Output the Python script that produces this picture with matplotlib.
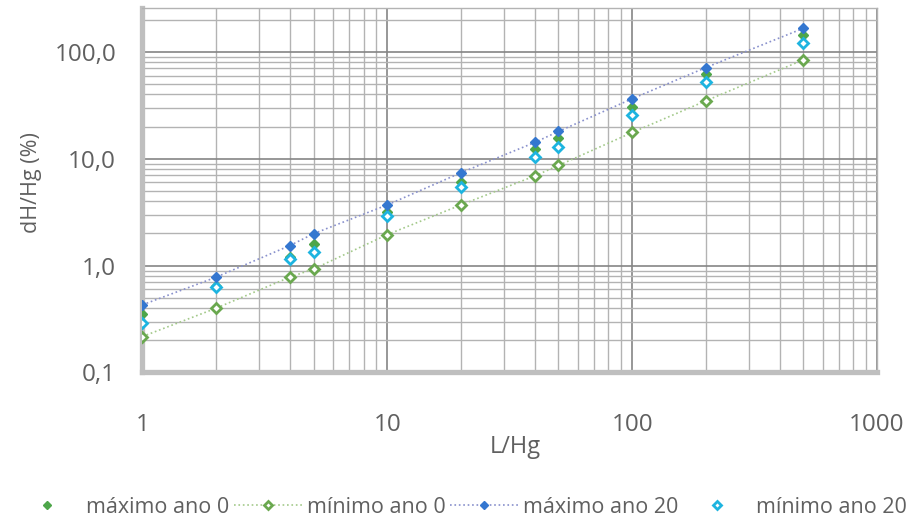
import matplotlib
matplotlib.use("Agg")
import matplotlib.pyplot as plt
from matplotlib.ticker import FixedLocator, LogLocator, NullFormatter, FixedFormatter

plt.rcParams['font.family'] = ['Open Sans', 'DejaVu Sans']

x_vals = [1, 2, 4, 5, 10, 20, 40, 50, 100, 200, 500]
max_ano0 = [0.35, 0.64, 1.20, 1.61, 3.2, 6.0, 12.4, 15.6, 30.8, 62.3, 144]
min_ano0 = [0.217, 0.40, 0.78, 0.93, 1.95, 3.7, 6.9, 8.65, 17.6, 34.8, 84.2]
max_ano20 = [0.43, 0.78, 1.54, 1.99, 3.7, 7.4, 14.2, 18.0, 36.4, 71.3, 166]
min_ano20 = [0.29, 0.63, 1.16, 1.34, 2.9, 5.4, 10.4, 13.0, 25.8, 52.1, 122]

labels = ["máximo ano 0", "mínimo ano 0", "máximo ano 20", "mínimo ano 20"]
y_ticks = [0.1, 1, 10, 100]
y_ticklabels = ["0,1", "1,0", "10,0", "100,0"]
x_ticks = [1, 10, 100, 1000]
x_ticklabels = ["1", "10", "100", "1000"]

text_col = "#606060"

fig = plt.figure(figsize=(9.18, 5.18), dpi=100)
ax = fig.add_axes([0.1552, 0.2809, 0.8001, 0.7046])
ax.set_xscale("log")
ax.set_yscale("log")
ax.set_xlim(1, 1000)
ax.set_ylim(0.1, 260)

# gridlines
ax.xaxis.set_major_locator(FixedLocator(x_ticks))
ax.yaxis.set_major_locator(FixedLocator(y_ticks))
ax.xaxis.set_minor_locator(LogLocator(base=10, subs=range(2, 10), numticks=20))
ax.yaxis.set_minor_locator(LogLocator(base=10, subs=range(2, 10), numticks=20))
ax.xaxis.set_minor_formatter(NullFormatter())
ax.yaxis.set_minor_formatter(NullFormatter())
ax.xaxis.set_major_formatter(FixedFormatter(x_ticklabels))
ax.yaxis.set_major_formatter(FixedFormatter(y_ticklabels))
ax.grid(True, which="major", color="#858585", linewidth=1.2, zorder=0)
ax.grid(True, which="minor", color="#b3b3b3", linewidth=1.0, zorder=0)
ax.set_axisbelow(True)
ax.tick_params(which="both", length=0, labelsize=17.5, colors=text_col)
ax.tick_params(axis="y", pad=19)
ax.tick_params(axis="x", pad=29)

for s in ["top", "right"]:
    ax.spines[s].set_color("#b3b3b3")
    ax.spines[s].set_linewidth(1.0)
for s in ["left", "bottom"]:
    ax.spines[s].set_color("#bfbfbf")
    ax.spines[s].set_linewidth(3.8)

ms = 5.6
h1, = ax.plot(x_vals, max_ano0, linestyle="none", marker="D", markersize=ms,
              color="#4ea64a", markeredgecolor="#4ea64a", label=labels[0], zorder=4)
h2, = ax.plot(x_vals, min_ano0, linestyle=":", linewidth=1.2, color="#a3c98a",
              marker="D", markersize=ms, markerfacecolor="white",
              markeredgecolor="#6aa84f", markeredgewidth=2, label=labels[1], zorder=3)
h3, = ax.plot(x_vals, max_ano20, linestyle=":", linewidth=1.2, color="#8890cc",
              marker="D", markersize=ms, markerfacecolor="#3477d0",
              markeredgecolor="#3477d0", label=labels[2], zorder=5)
h4, = ax.plot(x_vals, min_ano20, linestyle="none", marker="D", markersize=ms,
              markerfacecolor="white", markeredgecolor="#1db4e0",
              markeredgewidth=2, label=labels[3], zorder=4)

ax.set_xlabel("L/Hg", fontsize=17, color=text_col, va="center", ha="center")
ax.xaxis.set_label_coords(0.507, -(447 - 372.5) / 365)
ax.set_ylabel("dH/Hg (%)", fontsize=15.5, color=text_col, va="center", ha="center")
ax.yaxis.set_label_coords((32 - 142.5) / 734.5, 1 - (183 - 7.5) / 365)

fig.legend(handles=[h1, h2, h3, h4], loc="center", bbox_to_anchor=(0.501, 0.021),
           ncol=4, frameon=False, fontsize=15.5, labelcolor=text_col,
           handlelength=3.2, handletextpad=0.2, columnspacing=0.2,
           markerscale=0.8, borderpad=0, borderaxespad=0)

fig.savefig("out.png", dpi=100)
